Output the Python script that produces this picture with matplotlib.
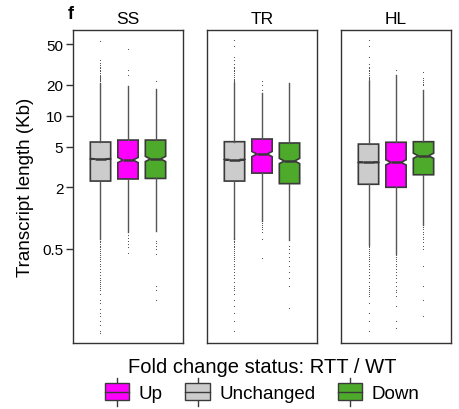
import matplotlib
matplotlib.use('agg')
import matplotlib.pyplot as plt
from matplotlib.patches import Patch, Rectangle
from matplotlib.lines import Line2D
from matplotlib.legend_handler import HandlerBase

plt.rcParams['font.family'] = ['Liberation Sans', 'DejaVu Sans']

# groups and box order inside each panel
panels = ['SS', 'TR', 'HL']
statuses = ['Unchanged', 'Up', 'Down']
colors = {'Unchanged': '#CCCCCC', 'Up': '#FF00FF', 'Down': '#4DAA2A'}

# box statistics (Kb): [Unchanged, Up, Down]
q1 = {'SS': [2.30, 2.41, 2.44], 'TR': [2.30, 2.75, 2.17], 'HL': [2.14, 2.00, 2.65]}
med = {'SS': [3.78, 3.69, 3.78], 'TR': [3.72, 4.22, 3.61], 'HL': [3.50, 3.50, 4.06]}
q3 = {'SS': [5.53, 5.78, 5.78], 'TR': [5.57, 5.92, 5.41], 'HL': [5.28, 5.50, 5.57]}
whis_lo = {'SS': [0.63, 0.73, 0.75], 'TR': [0.63, 0.94, 0.61], 'HL': [0.55, 0.45, 0.85]}
whis_hi = {'SS': [21.0, 19.5, 18.2], 'TR': [20.9, 16.6, 20.8], 'HL': [21.9, 24.9, 17.9]}
# notch half-width as a ratio around the median
notch = {'SS': [1.01, 1.06, 1.06], 'TR': [1.01, 1.06, 1.06], 'HL': [1.01, 1.06, 1.06]}

# outliers
fliers = {
    'SS': [
        [22, 22.5, 23, 23.5, 24, 24.5, 25, 26, 27, 28, 29, 30, 31.5, 33, 35, 54,
         0.6, 0.58, 0.56, 0.54, 0.52, 0.5, 0.48, 0.46, 0.44, 0.42, 0.4, 0.38,
         0.36, 0.34, 0.32, 0.3, 0.28, 0.26, 0.25, 0.24, 0.23, 0.22, 0.21, 0.2,
         0.18, 0.16, 0.15, 0.13, 0.12, 0.11, 0.1, 0.09, 0.08, 0.076],
        [25.2, 27.9, 44.7, 0.68, 0.64, 0.6, 0.56, 0.52, 0.46],
        [21.8, 0.6, 0.57, 0.53, 0.5, 0.45, 0.22, 0.2, 0.16],
    ],
    'TR': [
        [21.5, 22, 22.5, 23, 24, 25, 26, 27, 28, 29, 30, 32, 35, 37, 48, 55,
         0.62, 0.6, 0.58, 0.56, 0.54, 0.52, 0.5, 0.48, 0.46, 0.44, 0.42, 0.4,
         0.38, 0.36, 0.34, 0.32, 0.3, 0.28, 0.26, 0.24, 0.22, 0.21, 0.2,
         0.18, 0.16, 0.14, 0.12, 0.1, 0.079],
        [17.9, 19.7, 21.9, 0.9, 0.86, 0.82, 0.78, 0.74, 0.63, 0.41],
        [0.54, 0.5, 0.46, 0.42, 0.38, 0.34, 0.3, 0.26, 0.22, 0.133],
    ],
    'HL': [
        [22.5, 23, 23.5, 24, 25, 26, 27, 28, 29, 30, 31.8, 37, 48, 55,
         0.54, 0.52, 0.5, 0.48, 0.46, 0.44, 0.42, 0.4, 0.38, 0.36, 0.34,
         0.32, 0.3, 0.28, 0.26, 0.24, 0.22, 0.21, 0.2, 0.19, 0.18, 0.174,
         0.15, 0.12, 0.1, 0.079],
        [27.8, 0.44, 0.42, 0.4, 0.38, 0.36, 0.34, 0.32, 0.3, 0.28, 0.26,
         0.24, 0.22, 0.2, 0.19, 0.174, 0.14, 0.1, 0.084],
        [19.7, 20.5, 21.5, 22.5, 23.5, 26.5, 0.82, 0.78, 0.74, 0.7, 0.66,
         0.62, 0.58, 0.54, 0.5, 0.34, 0.22, 0.16, 0.112],
    ],
}

legend_order = ['Up', 'Unchanged', 'Down']

EDGE = '#3a3a3a'
WHISKER = '#555555'


class BoxHandler(HandlerBase):
    def create_artists(self, legend, orig_handle, xdescent, ydescent,
                       width, height, fontsize, trans):
        x0, y0 = -xdescent, -ydescent
        h = height * 1.35
        yb = y0 + (height - h) / 2
        xm = x0 + width / 2
        ym = y0 + height / 2
        stub = height * 0.4
        top = Line2D([xm, xm], [yb + h, yb + h + stub], color=EDGE, lw=1,
                     transform=trans)
        bot = Line2D([xm, xm], [yb - stub, yb], color=EDGE, lw=1,
                     transform=trans)
        rect = Rectangle((x0, yb), width, h,
                         facecolor=orig_handle.get_facecolor(),
                         edgecolor=EDGE, lw=1, transform=trans)
        mid = Line2D([x0, x0 + width], [ym, ym], color=EDGE, lw=1,
                     transform=trans)
        return [top, bot, rect, mid]


fig = plt.figure(figsize=(4.6, 4.1), dpi=100)

lefts = [73 / 460, 207 / 460, 341 / 460]
bottom = 1 - 344 / 410
height = 313 / 410
width = 110 / 460

for i, name in enumerate(panels):
    ax = fig.add_axes([lefts[i], bottom, width, height])
    stats = []
    for j, status in enumerate(statuses):
        m = med[name][j]
        stats.append({
            'med': m,
            'q1': q1[name][j],
            'q3': q3[name][j],
            'whislo': whis_lo[name][j],
            'whishi': whis_hi[name][j],
            'cilo': m / notch[name][j],
            'cihi': m * notch[name][j],
            'fliers': fliers[name][j],
            'label': status,
        })
    bp = ax.bxp(stats, positions=[1, 2, 3], widths=0.74, shownotches=True,
                showcaps=False, patch_artist=True,
                boxprops=dict(edgecolor=EDGE, linewidth=1.2),
                whiskerprops=dict(color=WHISKER, linewidth=1),
                medianprops=dict(color=EDGE, linewidth=1.8),
                flierprops=dict(marker='.', markersize=1.6, markeredgewidth=0,
                                markerfacecolor='#444444', linestyle='none'))
    for patch, status in zip(bp['boxes'], statuses):
        patch.set_facecolor(colors[status])

    ax.set_yscale('log')
    ax.set_ylim(0.0605, 68.5)
    ax.set_xlim(0, 4)
    ax.set_xticks([])
    ax.minorticks_off()
    for sp in ax.spines.values():
        sp.set_color('#333333')
        sp.set_linewidth(1)
    ax.set_title(name, fontsize=12.5, pad=5)
    if i == 0:
        ax.set_yticks([0.5, 2, 5, 10, 20, 50])
        ax.set_yticklabels(['0.5', '2', '5', '10', '20', '50'])
        ax.tick_params(axis='y', labelsize=11, length=5, width=1,
                       color='#333333', pad=2)
        ax.set_ylabel('Transcript length (Kb)', fontsize=13.5, labelpad=6)
    else:
        ax.set_yticks([])

fig.text(0.148, 0.965, 'f', fontsize=13, fontweight='bold', va='center')

handles = [Patch(facecolor=colors[s]) for s in legend_order]
fig.legend(handles, legend_order, handler_map={Patch: BoxHandler()},
           loc='lower center', bbox_to_anchor=(0.57, -0.02), ncol=3,
           frameon=False, fontsize=13.5, title='Fold change status: RTT / WT',
           title_fontsize=14.5, handlelength=1.3, handletextpad=0.5,
           columnspacing=1.2, borderpad=0.3)

fig.savefig('out.png', dpi=100)
